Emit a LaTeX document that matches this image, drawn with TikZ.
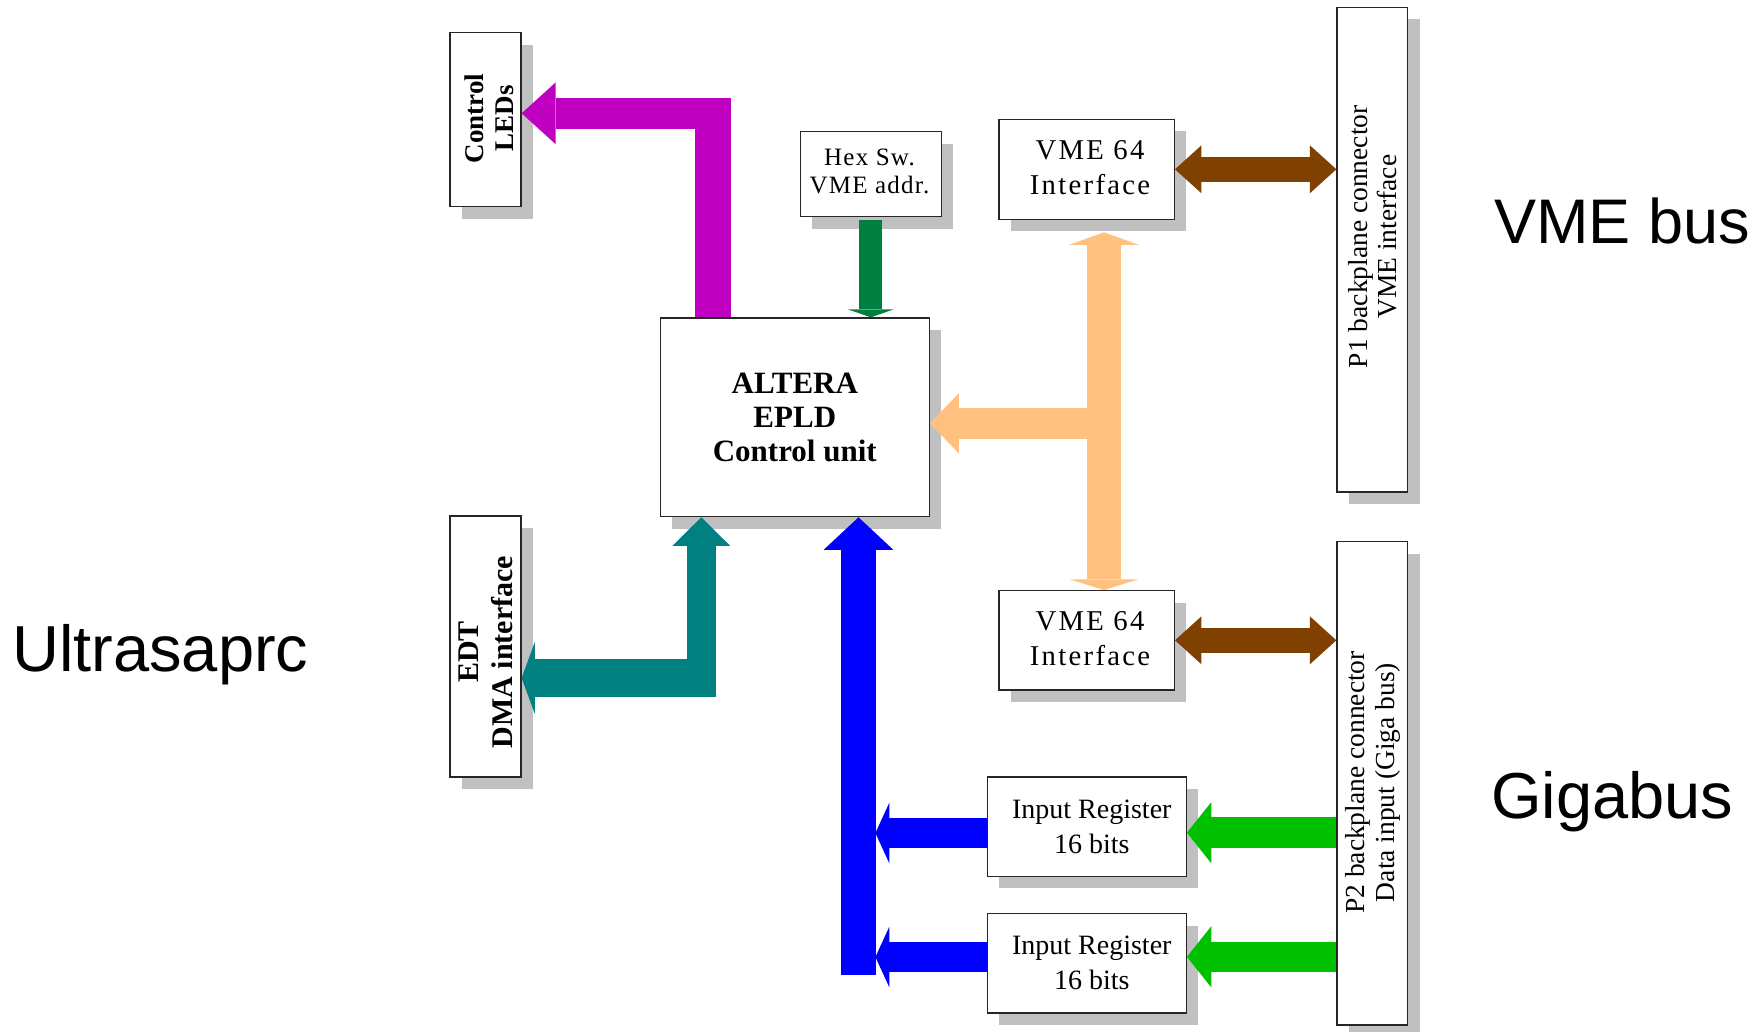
\documentclass[tikz,border=0pt]{standalone}
\usepackage{fontspec}
\setmainfont{Liberation Serif}
\newfontfamily\arialf{Liberation Sans}
\newfontfamily\spacedA[LetterSpace=8]{Liberation Serif}
\newfontfamily\spacedB[LetterSpace=5]{Liberation Serif}
\usetikzlibrary{arrows.meta,shadows,calc}
\definecolor{cmag}{RGB}{192,0,192}
\definecolor{cdgreen}{RGB}{0,128,64}
\definecolor{cpeach}{RGB}{255,192,128}
\definecolor{cbrown}{RGB}{128,64,0}
\definecolor{cteal}{RGB}{0,128,128}
\definecolor{cblue}{RGB}{0,0,255}
\definecolor{cgreen}{RGB}{0,192,0}
\definecolor{shgray}{RGB}{192,192,192}
\begin{document}
\begin{tikzpicture}[x=1pt,y=-1pt,
  box/.style={draw=black!85, line width=1.2pt, fill=white, inner sep=0pt, align=center,
    drop shadow={shadow xshift=12pt, shadow yshift=-12pt, fill=shgray, opacity=1}},
  rtext/.style={rotate=90, align=center, inner sep=0pt},
  bigsans/.style={font=\arialf\fontsize{65}{78}\selectfont, inner sep=0pt, anchor=base west},
  fat/.style={line width=#1, line cap=butt, line join=miter}
]
\useasboundingbox (0,0) rectangle (1760,1032);

% boxes
\node[box, minimum width=71pt, minimum height=174pt] (leds) at (485.5,119.7) {};
\node[box, minimum width=141pt, minimum height=85pt] (hex) at (870.8,174.2) {};
\node[box, minimum width=269pt, minimum height=198.7pt, font=\bfseries\fontsize{31}{34}\selectfont] (altera) at (794.8,417.3) {ALTERA\\EPLD\\Control unit};
\node[box, minimum width=175.3pt, minimum height=100pt] (vme1) at (1086.7,169.3) {};
\node[box, minimum width=175.3pt, minimum height=99.3pt] (vme2) at (1086.7,640.3) {};
\node[box, minimum width=70.7pt, minimum height=484.7pt] (p1) at (1372.3,249.7) {};
\node[box, minimum width=70.7pt, minimum height=483.3pt] (p2) at (1372.3,783.3) {};
\node[box, minimum width=71pt, minimum height=261pt] (edt) at (485.5,646.5) {};
\node[box, minimum width=199pt, minimum height=99.3pt, font=\fontsize{28}{35}\selectfont] (ir1) at (1086.8,826.7) {\hspace*{10pt}Input Register\\\hspace*{10pt}16 bits};
\node[box, minimum width=199pt, minimum height=99.3pt, font=\fontsize{28}{35}\selectfont] (ir2) at (1086.8,963.3) {\hspace*{10pt}Input Register\\\hspace*{10pt}16 bits};

% box texts
\node[align=center, inner sep=0pt, font=\spacedB\fontsize{25}{28.3}\selectfont] (hexT) at (869.5,171.5) {Hex Sw.\\VME addr.};
\node[align=center, inner sep=0pt, font=\spacedA\fontsize{28.7}{35}\selectfont] (vme1T) at (1090,167.5) {VME 64\\Interface};
\node[align=center, inner sep=0pt, font=\spacedA\fontsize{28.7}{35}\selectfont] (vme2T) at (1090,638.5) {VME 64\\Interface};
\node[rtext, font=\bfseries\fontsize{27}{30}\selectfont] (ledsT) at (489.5,118.3) {Control\\LEDs};
\node[rtext, font=\bfseries\fontsize{30}{34}\selectfont] (edtT) at (486,652) {EDT\\DMA interface};
\node[rtext, font=\fontsize{27.5}{29}\selectfont] (p1T) at (1373,236.7) {P1 backplane connector\\VME interface};
\node[rtext, font=\fontsize{27.5}{30}\selectfont] (p2T) at (1373,782.5) {P2 backplane connector\\Data input (Giga bus)};

% big labels
\node[bigsans] (ultra) at (12,671.7) {Ultrasaprc};
\node[bigsans, font=\arialf\fontsize{63}{76}\selectfont] (vmebus) at (1494,243.3) {VME bus};
\node[bigsans] (giga) at (1491,818.3) {Gigabus};

% coordinates
\coordinate (magtop) at (712.8,97.7);
\coordinate (magcorner) at (730.7,113.3);
\coordinate (pjoin) at (1104,423.3);
\coordinate (tealcorner) at (701.3,696.7);
\coordinate (tealstart) at (716,678);
\coordinate (bluebot) at (858.5,975.3);
\coordinate (b1) at ($(ir1.west)+(0,6.3)$);
\coordinate (b2) at ($(ir2.west)+(0,-6.3)$);
\coordinate (g1) at ($(ir1.east)+(0,6)$);
\coordinate (g2) at ($(ir2.east)+(0,-6.5)$);

% magenta
\draw[cmag, fat=35.7pt] (altera.north -| magtop) -- (magtop);
\draw[cmag, fat=31.3pt, -{Triangle[length=34pt,width=61.7pt,line width=0pt]}] (magcorner) -- ($(leds.east)+(0,-6.4)$);
% dark green
\draw[cdgreen, fat=23pt, -{Triangle[length=8pt,width=46pt,line width=0pt]}] ($(hex.south)+(0,2.3)$) -- (hex.south |- altera.north);
% peach
\draw[cpeach, fat=34.6pt, {Triangle[length=12.6pt,width=70pt,line width=0pt]}-{Triangle[length=10.7pt,width=68.3pt,line width=0pt]}] ($(vme1.south)+(17.3,12.4)$) -- ($(vme2.north)+(17.3,0)$);
\draw[cpeach, fat=30.4pt, -{Triangle[length=29pt,width=60.3pt,line width=0pt]}] (pjoin) -- ($(altera.east)+(0,6)$);
% brown
\draw[cbrown, fat=25pt, {Triangle[length=26.5pt,width=48pt,line width=0pt]}-{Triangle[length=26.5pt,width=48pt,line width=0pt]}] (vme1.east) -- (vme1.east -| p1.west);
\draw[cbrown, fat=25pt, {Triangle[length=26.5pt,width=48pt,line width=0pt]}-{Triangle[length=26.5pt,width=48pt,line width=0pt]}] (vme2.east) -- (vme2.east -| p2.west);
% teal
\draw[cteal, fat=29.3pt, -{Triangle[length=28.6pt,width=57.7pt,line width=0pt]}] (tealcorner) -- (tealcorner |- altera.south);
\draw[cteal, fat=37.4pt, -{Triangle[length=13.3pt,width=72.3pt,line width=0pt]}] (tealstart) -- ($(edt.east)+(0,31.5)$);
% blue
\draw[cblue, fat=35pt, -{Triangle[length=32.6pt,width=69.7pt,line width=0pt]}] (bluebot) -- (bluebot |- altera.south);
\draw[cblue, fat=30.6pt, -{Triangle[length=14pt,width=61pt,line width=0pt]}] (b1) -- ++(-111.3,0);
\draw[cblue, fat=30.6pt, -{Triangle[length=14pt,width=61pt,line width=0pt]}] (b2) -- ++(-111.3,0);
% green
\draw[cgreen, fat=30.6pt, -{Triangle[length=24.4pt,width=61.3pt,line width=0pt]}] (g1 -| p2.west) -- (g1);
\draw[cgreen, fat=30.6pt, -{Triangle[length=24.4pt,width=61.3pt,line width=0pt]}] (g2 -| p2.west) -- (g2);
\end{tikzpicture}
\end{document}
